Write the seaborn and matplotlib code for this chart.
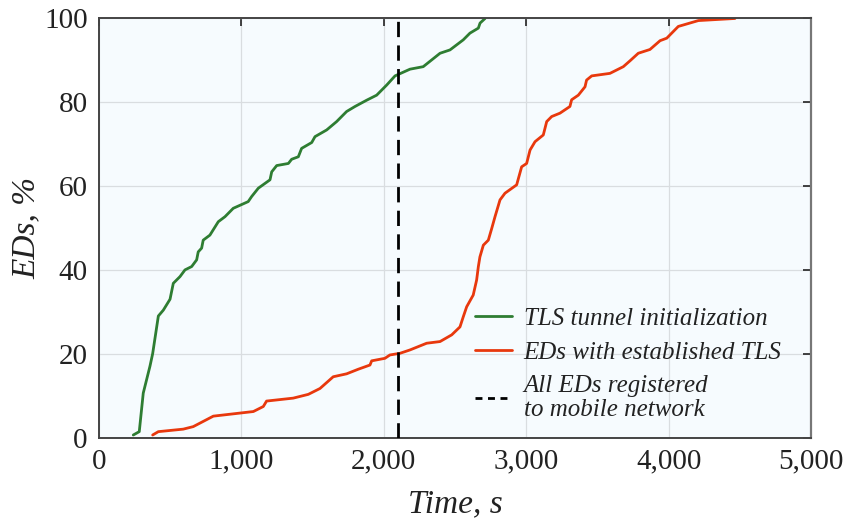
import numpy as np
import pandas as pd
import matplotlib
matplotlib.use("Agg")
import matplotlib.pyplot as plt
import matplotlib.ticker as mticker
from matplotlib.lines import Line2D
import seaborn as sns

# ---- data ----
green_t = [241, 283, 311, 358, 377, 417, 452, 499, 522, 569, 604, 651, 686, 697, 721, 732,
           779, 838, 885, 943, 1048, 1072, 1119, 1201, 1213, 1248, 1330, 1353, 1400, 1423,
           1494, 1517, 1599, 1669, 1739, 1798, 1880, 1950, 2020, 2079, 2184, 2277, 2395,
           2465, 2558, 2605, 2664, 2676, 2711]
green_p = [0.6, 1.4, 10.6, 17, 20, 29, 30.4, 33, 36.8, 38.4, 40, 40.8, 42.4, 44.3, 45.2, 47.1,
           48.3, 51.5, 52.7, 54.7, 56.3, 57.5, 59.5, 61.5, 63.4, 64.9, 65.4, 66.4, 67, 69,
           70.4, 71.8, 73.4, 75.4, 77.8, 79, 80.5, 81.7, 84.1, 86.3, 87.9, 88.5, 91.7,
           92.5, 94.9, 96.5, 97.7, 98.9, 100]

red_t = [377, 417, 592, 662, 803, 1084, 1154, 1177, 1364, 1470, 1552, 1645, 1739, 1821, 1903,
         1915, 2008, 2043, 2114, 2184, 2301, 2395, 2477, 2535, 2558, 2582, 2628, 2652, 2664,
         2675, 2699, 2734, 2758, 2781, 2816, 2851, 2933, 2968, 3003, 3027, 3062, 3120, 3144,
         3179, 3237, 3307, 3319, 3366, 3413, 3424, 3460, 3588, 3682, 3729, 3787, 3869, 3940,
         3987, 4068, 4209, 4466]
red_p = [0.6, 1.4, 2, 2.6, 5.1, 6.2, 7.4, 8.7, 9.4, 10.3, 11.7, 14.5, 15.2, 16.3, 17.3,
         18.3, 18.9, 19.7, 20.1, 20.9, 22.5, 22.9, 24.5, 26.4, 28.8, 31.2, 34, 37.6, 40.8,
         43.1, 45.9, 47.1, 49.9, 52.7, 56.7, 58.3, 60.3, 64.6, 65.4, 68.6, 70.6, 72.2, 75.4,
         76.6, 77.4, 79, 80.6, 81.7, 83.7, 85.3, 86.3, 86.9, 88.5, 89.9, 91.7, 92.6, 94.7,
         95.3, 98.1, 99.5, 100]

registered_t = 2100

series_names = ["TLS tunnel initialization", "EDs with established TLS"]
vline_label = "All EDs registered\nto mobile network"
x_ticks = [0, 1000, 2000, 3000, 4000, 5000]
y_ticks = [0, 20, 40, 60, 80, 100]

# ---- style ----
sns.set_theme(style="whitegrid")
plt.rcParams["font.family"] = ["Liberation Serif", "DejaVu Serif"]

df = pd.concat([
    pd.DataFrame({"t": green_t, "p": green_p, "s": series_names[0]}),
    pd.DataFrame({"t": red_t, "p": red_p, "s": series_names[1]}),
])

fig = plt.figure(figsize=(8.48, 5.19), dpi=100)
ax = fig.add_axes([0.1167, 0.157, 0.8397, 0.8074])
ax.set_facecolor("#f6fbfe")

palette = {series_names[0]: "#2e7d32", series_names[1]: "#e8380d"}
sns.lineplot(data=df, x="t", y="p", hue="s", palette=palette, sort=False,
             estimator=None, linewidth=2.0, ax=ax, legend=False)

ax.axvline(registered_t, color="black", linewidth=2.0, dashes=(5.5, 3), zorder=3)

ax.set_xlim(0, 5000)
ax.set_ylim(0, 100)
ax.set_xticks(x_ticks)
ax.set_yticks(y_ticks)
ax.xaxis.set_major_formatter(mticker.FuncFormatter(lambda v, pos: f"{int(v):,}"))

ax.grid(True, color="#d9dde0", linewidth=0.9)
ax.tick_params(axis="both", which="major", direction="in", length=6, width=1.2,
               labelsize=21, colors="#222222", top=True, right=True, pad=8)
for side in ["left", "bottom", "top"]:
    ax.spines[side].set_color("#444444")
    ax.spines[side].set_linewidth(1.4)
ax.spines["right"].set_color("#777777")
ax.spines["right"].set_linewidth(1.6)

ax.set_xlabel("Time, s", fontsize=24, style="italic", color="#222222", labelpad=10)
ax.set_ylabel("EDs, %", fontsize=24, style="italic", color="#222222", labelpad=2)

handles = [Line2D([], [], color=palette[series_names[0]], linewidth=2.0),
           Line2D([], [], color=palette[series_names[1]], linewidth=2.0),
           Line2D([], [], color="black", linewidth=2.0, dashes=(2.5, 2.0))]
labels = [series_names[0], series_names[1], vline_label]
leg = ax.legend(handles, labels, loc="upper left", bbox_to_anchor=(0.528, 0.31),
                frameon=False, borderaxespad=0, borderpad=0,
                handlelength=1.5, handletextpad=0.45, labelspacing=0.45,
                prop={"family": "Liberation Serif", "style": "italic", "size": 18})
for t in leg.get_texts():
    t.set_color("#222222")
    t.set_linespacing(1.1)

fig.savefig("out.png", dpi=100)
